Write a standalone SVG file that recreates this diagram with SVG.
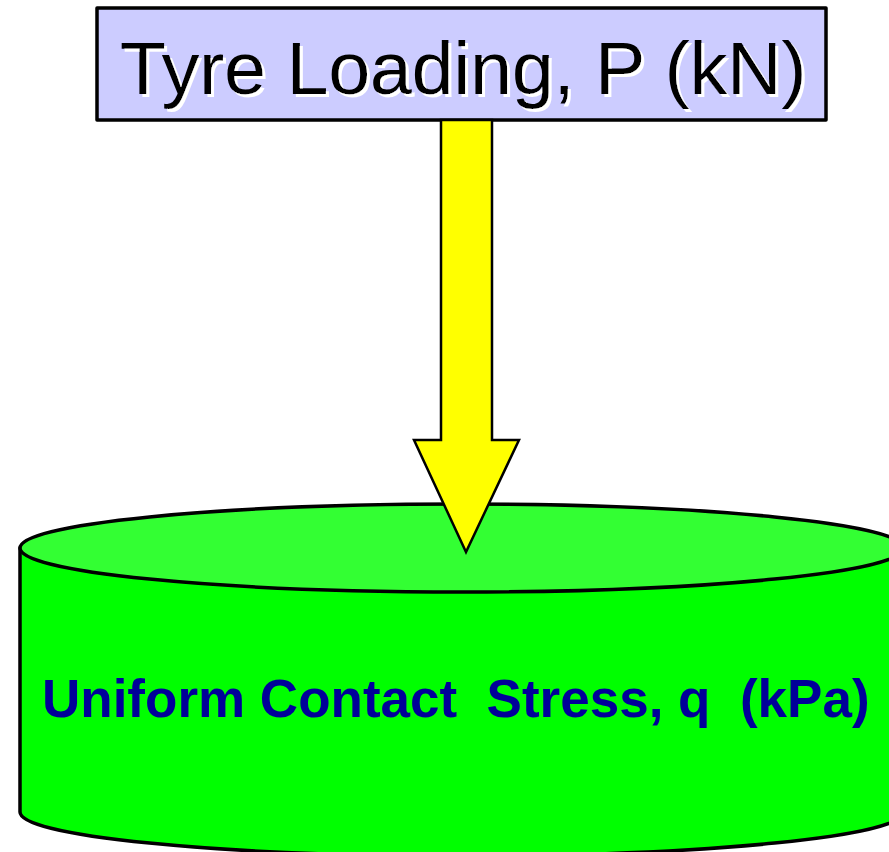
<svg xmlns="http://www.w3.org/2000/svg" width="889" height="852" viewBox="0 0 889 852">
<defs>
<filter id="wsh" x="-5%" y="-20%" width="110%" height="140%">
<feDropShadow dx="3" dy="3" stdDeviation="0" flood-color="#fff" flood-opacity="1"/>
</filter>
</defs>
<style>
.ol{stroke:#000;stroke-width:3.5;stroke-linejoin:round}
.t1{font-family:"Liberation Sans",Arial,sans-serif;font-size:75px}
.t2{font-family:"Liberation Sans",Arial,sans-serif;font-size:53px;font-weight:bold;fill:#000099;white-space:pre}
</style>
<rect width="889" height="852" fill="#fff"/>
<g id="cylinder">
<path class="ol" d="M20,548 L20,812 A442,44 0 0 0 904,812 L904,548 Z" fill="#00ff00"/>
<ellipse class="ol" cx="462" cy="548" rx="442" ry="44" fill="#33ff33"/>
<text class="t2" x="42" y="717" xml:space="preserve">Uniform Contact  Stress, q  (kPa)</text>
</g>
<g id="load">
<rect class="ol" x="97" y="8" width="729" height="112" fill="#ccccff"/>
<text class="t1" x="120" y="94" fill="#000" filter="url(#wsh)">Tyre Loading, P (kN)</text>
</g>
<g id="connectors">
<polygon points="441,120 492,120 492,440 519,440 466,552 414,440 441,440" fill="#ffff00" stroke="#000" stroke-width="2.5" stroke-linejoin="miter"/>
</g>
</svg>
